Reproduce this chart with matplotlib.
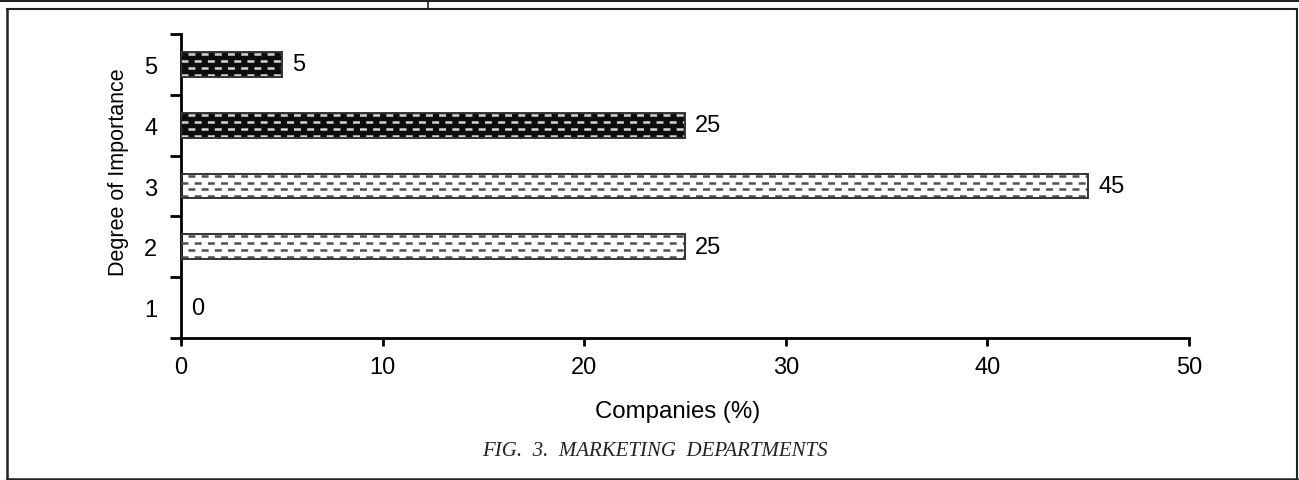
import matplotlib.pyplot as plt
from matplotlib.lines import Line2D
import numpy as np

# importance levels and share of companies
levels = [1, 2, 3, 4, 5]
companies = [0, 25, 45, 25, 5]
dark_levels = [4, 5]

plt.rcParams['font.family'] = ['Liberation Sans', 'DejaVu Sans']
plt.rcParams['lines.scale_dashes'] = False
FS = 17

fig = plt.figure(figsize=(12.99, 4.81), dpi=100)
ax = fig.add_axes([0.1393, 0.2952, 0.7760, 0.6320])

bars = ax.barh(levels, companies, height=0.41, color='white',
               edgecolor='none', linewidth=0, zorder=2)

# dashed texture inside each bar
for lvl, val, bar in zip(levels, companies, bars):
    if val == 0:
        continue
    dark = lvl in dark_levels
    if dark:
        bar.set_facecolor('#0d0d0d')
    dash_col = '#d4d4d4' if dark else '#505050'
    rows = np.linspace(lvl - 0.17, lvl + 0.17, 4)
    for i, yy in enumerate(rows):
        ln = ax.plot([0, val], [yy, yy], color=dash_col, lw=1.8,
                     zorder=3)[0]
        ln.set_linestyle((4.5 * (i % 2), [5, 4.5]))
        ln.set_dash_capstyle('butt')
        ln.set_clip_path(bar)
    ax.add_patch(plt.Rectangle((0, lvl - 0.205), val, 0.41, fill=False,
                               edgecolor='#333333', lw=1.4, zorder=4))

for lvl, val in zip(levels, companies):
    ax.text(val + 0.5, lvl, str(val), va='center', ha='left', fontsize=FS)

ax.set_xlim(0, 50)
ax.set_ylim(0.5, 5.5)
ax.set_xticks([0, 10, 20, 30, 40, 50])
ax.set_yticks(levels)
ax.set_yticks(np.arange(0.5, 6.0, 1.0), minor=True)
ax.tick_params(axis='y', which='major', length=0, pad=17, labelsize=FS)
ax.tick_params(axis='y', which='minor', length=8, width=2, direction='out')
ax.tick_params(axis='x', length=6, width=2, direction='out', pad=7,
               labelsize=FS)
for s in ['top', 'right']:
    ax.spines[s].set_visible(False)
for s in ['left', 'bottom']:
    ax.spines[s].set_linewidth(2)

ax.set_xlabel('Companies (%)', fontsize=17.3)
ax.xaxis.set_label_coords((678 - 181) / 1008, -(401 - 339) / 304)
ax.set_ylabel('Degree of Importance', fontsize=15.5)
ax.yaxis.set_label_coords(-(181 - 129) / 1008, (339 - 172.5) / 304)

fig.text(0.504, 0.062, 'FIG.  3.  MARKETING  DEPARTMENTS', ha='center',
         va='center', fontsize=15, style='italic',
         family='Liberation Serif', color='#222222')

# page frame
W, H = 1299, 481
def fl(x0, y0, x1, y1, lw):
    fig.add_artist(Line2D([x0 / W, x1 / W], [1 - y0 / H, 1 - y1 / H],
                          color='#222222', lw=lw, transform=fig.transFigure))

fl(0, 1, W, 1, 2.2)
fl(428, 1, 428, 9, 1.2)
fl(7, 10, W - 2, 10, 1.5)
fl(7, 10, 7, 480, 1.8)
fl(7, 479.5, W - 2, 479.5, 1.8)
fl(W - 2, 10, W - 2, 480, 1.5)

fig.savefig('out.png', dpi=100)
